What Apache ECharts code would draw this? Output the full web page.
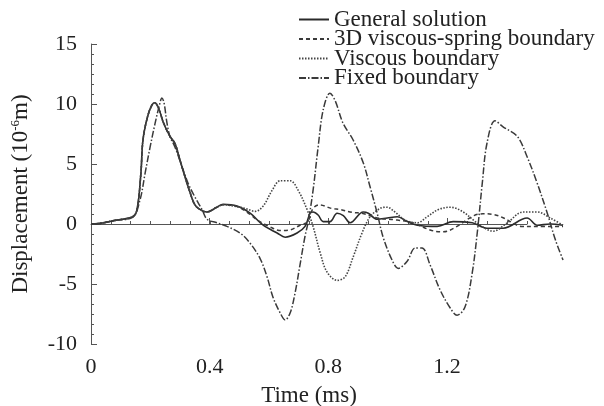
<!DOCTYPE html>
<html>
<head>
<meta charset="utf-8">
<script src="https://cdn.jsdelivr.net/npm/echarts@6/dist/echarts.min.js"></script>
<style>
  html, body { margin: 0; padding: 0; background: #fff; }
  #chart { width: 604px; height: 406px; }
</style>
</head>
<body>
<div id="chart"></div>
<script>
// [time (ms), displacement (1e-6 m)]
const general = [
  [0, 0], [0.03, 0.05], [0.08, 0.3], [0.14, 0.6], [0.155, 1.2], [0.168, 4.2], [0.175, 7.0],
  [0.19, 8.9], [0.205, 9.9], [0.215, 10.1], [0.23, 9.5], [0.243, 8.5], [0.266, 7.3],
  [0.283, 6.7], [0.3, 5.3], [0.317, 3.9], [0.334, 2.6], [0.35, 1.6], [0.368, 1.2], [0.39, 1.0],
  [0.424, 1.4], [0.445, 1.65], [0.492, 1.5], [0.536, 0.9], [0.58, -0.1], [0.627, -0.75],
  [0.654, -1.1], [0.694, -0.75], [0.721, -0.2], [0.738, 0.9], [0.748, 1.0], [0.765, 0.75],
  [0.782, 0.2], [0.805, 0.2], [0.829, 0.9], [0.85, 0.7], [0.873, 0.1], [0.917, 1.0],
  [0.934, 0.9], [0.964, 0.4], [0.998, 0.5], [1.032, 0.6], [1.065, 0.2], [1.099, -0.1],
  [1.166, -0.2], [1.22, 0.2], [1.284, 0.1], [1.334, -0.35], [1.388, -0.35], [1.469, 0.5],
  [1.503, -0.1], [1.547, 0], [1.59, -0.1]
];
const viscousSpring = [
  [0, 0], [0.03, 0.05], [0.08, 0.3], [0.14, 0.6], [0.155, 1.2], [0.168, 4.2], [0.175, 7.0],
  [0.19, 8.9], [0.205, 9.9], [0.215, 10.1], [0.23, 9.5], [0.243, 8.5], [0.266, 7.3],
  [0.283, 6.7], [0.3, 5.3], [0.317, 3.9], [0.334, 2.6], [0.35, 1.6], [0.368, 1.2], [0.39, 1.0],
  [0.424, 1.4], [0.445, 1.6], [0.492, 1.45], [0.536, 0.8], [0.56, 0.33], [0.6, -0.2],
  [0.64, -0.55], [0.67, -0.5], [0.704, -0.1], [0.73, 0.2], [0.748, 1.3], [0.77, 1.6],
  [0.81, 1.3], [0.84, 1.2], [0.884, 0.95], [0.913, 0.9], [0.964, 0.5], [1.031, 0.33],
  [1.085, 0.1], [1.142, -0.5], [1.18, -0.65], [1.2, -0.6], [1.233, -0.2], [1.29, 0.7],
  [1.32, 0.85], [1.355, 0.8], [1.39, 0.5], [1.42, 0.1], [1.45, -0.2], [1.5, -0.2], [1.59, -0.2]
];
const viscous = [
  [0, 0], [0.03, 0.05], [0.08, 0.3], [0.14, 0.6], [0.155, 1.2], [0.168, 4.2], [0.175, 7.0],
  [0.19, 8.9], [0.205, 9.9], [0.215, 10.1], [0.23, 9.5], [0.243, 8.5], [0.266, 7.3],
  [0.283, 6.7], [0.3, 5.3], [0.317, 3.9], [0.334, 2.6], [0.35, 1.6], [0.368, 1.2], [0.39, 1.0],
  [0.424, 1.4], [0.445, 1.6], [0.49, 1.45], [0.519, 1.3], [0.553, 1.05], [0.58, 1.5],
  [0.61, 2.8], [0.637, 3.6], [0.671, 3.6], [0.698, 2.8], [0.728, 1.2], [0.748, -0.2],
  [0.772, -2.4], [0.795, -4.0], [0.829, -4.7], [0.856, -4.4], [0.883, -2.75], [0.913, -0.75],
  [0.94, 0.6], [0.974, 1.3], [0.997, 1.4], [1.024, 1.0], [1.058, 0.33], [1.099, 0.1],
  [1.132, 0.6], [1.17, 1.2], [1.21, 1.4], [1.254, 1.0], [1.3, 0.1], [1.355, -0.6],
  [1.402, 0.1], [1.456, 1.0], [1.503, 1.0], [1.547, 0.5], [1.59, -0.1]
];
const fixed = [
  [0, 0], [0.03, 0.05], [0.08, 0.3], [0.14, 0.55], [0.165, 2.0], [0.182, 4.2], [0.199, 6.4],
  [0.216, 8.4], [0.229, 9.75], [0.239, 10.5], [0.246, 10.1], [0.256, 8.4], [0.266, 7.3],
  [0.283, 6.4], [0.307, 4.75], [0.327, 3.4], [0.35, 2.25], [0.374, 1.2], [0.391, 0.4],
  [0.425, 0.1], [0.458, -0.2], [0.502, -0.75], [0.536, -1.6], [0.57, -2.9], [0.593, -4.4],
  [0.613, -6.1], [0.637, -7.4], [0.654, -8.0], [0.671, -7.4], [0.687, -5.8], [0.704, -3.4],
  [0.721, -1.0], [0.731, 0.1], [0.748, 2.8], [0.765, 6.4], [0.782, 9.5], [0.805, 10.9],
  [0.822, 10.3], [0.849, 8.4], [0.883, 7.0], [0.917, 5.1], [0.94, 3.1], [0.964, 0.9],
  [0.984, -1.1], [1.014, -3.0], [1.035, -3.7], [1.065, -3.1], [1.092, -2.0], [1.115, -2.0],
  [1.142, -3.4], [1.176, -5.5], [1.21, -7.0], [1.233, -7.6], [1.26, -6.9], [1.284, -4.1],
  [1.301, -0.75], [1.318, 3.4], [1.334, 6.75], [1.361, 8.6], [1.388, 8.1], [1.436, 7.3],
  [1.469, 5.6], [1.503, 3.4], [1.537, 0.9], [1.564, -1.3], [1.59, -3.0]
];
const names = ['General solution', '3D viscous-spring boundary', 'Viscous boundary', 'Fixed boundary'];
const xLabelTicks = [0, 0.4, 0.8, 1.2];

const font = 'Liberation Serif, Times New Roman, serif';
const axisColor = '#555';

const chart = echarts.init(document.getElementById('chart'));

const lineItem = (name, data, color, type, width) => ({
  name: name,
  type: 'line',
  xAxisIndex: 2,
  yAxisIndex: 2,
  data: data,
  symbol: 'none',
  smooth: 0.35,
  silent: true,
  animation: false,
  lineStyle: { color: color, width: width, type: type },
  itemStyle: { color: color }
});

const gridBase = { top: 44, bottom: 62, left: 91, outerBoundsMode: 'none', containLabel: false };

chart.setOption({
  animation: false,
  legend: {
    orient: 'vertical',
    left: 293,
    top: 3,
    itemWidth: 30,
    itemHeight: 10,
    itemGap: -3.5,
    itemStyle: { opacity: 0 },
    textStyle: { fontFamily: font, fontSize: 23, color: '#222' },
    data: names
  },
  grid: [
    Object.assign({ right: 77 }, gridBase),  // frame + minor ticks
    Object.assign({ right: 157 }, gridBase), // major ticks + labels 0..1.2
    Object.assign({ right: 38 }, gridBase)   // data
  ],
  xAxis: [
    {
      gridIndex: 0, type: 'value', min: 0, max: 22, interval: 1,
      name: 'Time (ms)', nameLocation: 'middle', nameGap: 40,
      nameTextStyle: { fontFamily: font, fontSize: 23, color: '#222' },
      axisLine: { show: true, lineStyle: { color: axisColor, width: 1 } },
      axisTick: { show: true, inside: true, length: 3, lineStyle: { color: axisColor } },
      axisLabel: { show: false },
      splitLine: { show: false }
    },
    {
      gridIndex: 1, type: 'value', min: 0, max: 1.2, interval: 0.4,
      axisLine: { show: false },
      axisTick: { show: true, inside: true, length: 6, lineStyle: { color: axisColor } },
      axisLabel: {
        fontFamily: font, fontSize: 22, color: '#222', margin: 12,
        formatter: v => (xLabelTicks.indexOf(+v.toFixed(2)) >= 0 ? String(+v.toFixed(2)) : '')
      },
      splitLine: { show: false }
    },
    { gridIndex: 2, type: 'value', min: 0, max: 1.6, show: false }
  ],
  yAxis: [
    {
      gridIndex: 0, type: 'value', min: -10, max: 15, interval: 5,
      name: '{a|Displacement (10}{s|-6}{a|m)}', nameLocation: 'middle', nameGap: 58,
      nameTextStyle: {
        rich: {
          a: { fontFamily: font, fontSize: 23, color: '#222' },
          s: { fontFamily: font, fontSize: 13, color: '#222', padding: [0, 0, 11, 0] }
        }
      },
      axisLine: { show: true, lineStyle: { color: axisColor, width: 1 } },
      axisTick: { show: true, inside: true, length: 6, lineStyle: { color: axisColor } },
      minorTick: { show: true, splitNumber: 6, length: 3, lineStyle: { color: axisColor } },
      axisLabel: { fontFamily: font, fontSize: 22, color: '#222', margin: 14 },
      splitLine: { show: false }
    },
    { gridIndex: 1, type: 'value', min: -10, max: 15, show: false },
    { gridIndex: 2, type: 'value', min: -10, max: 15, show: false }
  ],
  series: [
    lineItem(names[0], general, '#2a2a2a', 'solid', 1.6),
    lineItem(names[1], viscousSpring, '#3a3a3a', [4, 3], 1.5),
    lineItem(names[2], viscous, '#444', [1.5, 1.5], 1.6),
    lineItem(names[3], fixed, '#3a3a3a', [7, 2, 1.5, 2], 1.5)
  ]
});
</script>
</body>
</html>
